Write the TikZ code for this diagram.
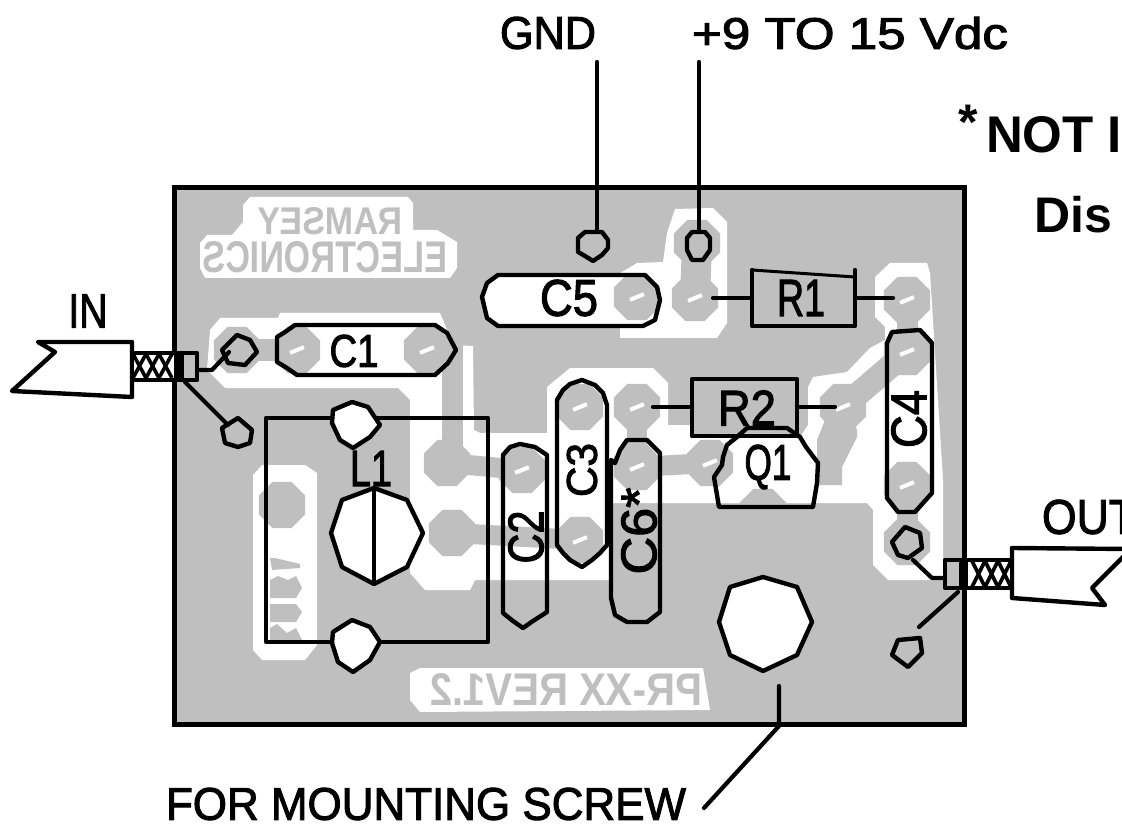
\documentclass[tikz,border=0pt]{standalone}
\usepackage{graphicx}
\usepackage{fontspec}
\setmainfont{Liberation Sans}
\newfontfamily\plotfont[FakeBold=2.2]{Liberation Sans}
\usetikzlibrary{shapes.geometric}
\definecolor{pcb}{RGB}{191,191,191}
\newcommand{\fit}[3]{\resizebox{#1pt}{#2pt}{#3}}
\newcommand{\mir}[3]{\resizebox{#1pt}{#2pt}{\reflectbox{\bfseries #3}}}
\tikzset{
 outl/.style={draw=black,line width=4.4pt,line join=round,line cap=round},
 wfill/.style={outl,fill=white},
 wire/.style={draw=black,line width=4.2pt,line cap=round,line join=round},
 padg/.style={regular polygon,regular polygon sides=8,minimum size=50pt,inner sep=0pt,fill=pcb,draw=none},
 holew/.style={rectangle,fill=white,minimum width=15pt,minimum height=4pt,inner sep=0pt,rotate=22},
 trace/.style={draw=pcb,line width=21pt},
 lbl/.style={inner sep=0pt,outer sep=0pt,text=black,font=\plotfont\fontsize{40}{40}\selectfont},
 bigt/.style={inner sep=0pt,outer sep=0pt,text=black,anchor=west,font=\bfseries\fontsize{50}{50}\selectfont},
 ghost/.style={inner sep=0pt,outer sep=0pt,text=pcb,font=\fontsize{40}{40}\selectfont},
}
\begin{document}
\begin{tikzpicture}[x=1pt,y=-1pt]
\useasboundingbox (0,0) rectangle (1122,826);
\clip (0,0) rectangle (1122,826);
\fill[white] (0,0) rectangle (1122,826);
% board
\fill[pcb] (174,188) rectangle (964,724);
% etched areas
\fill[white] (668,383)--(668,425)--(692,425)--(692,437)--(800,437)--(808,425)--(808,387)--(813,377)--(847,372)--(870,348)--(885,340)--(885,327)--(875,317)--(875,277)--(890,263)--(927,263)--(930,273)--(943,480)--(943,580)--(888,580)--(873,565)--(873,510)--(867,503)--(612,503)--(612,580)--(475,580)--(470,590)--(425,590)--(410,573)--(410,400)--(398,388)--(225,388)--(207,370)--(210,330)--(220,318)--(278,318)--(280,313)--(440,313)--(443,320)--(453,345)--(473,346)--(474,430)--(480,433)--(547,433)--(547,387)--(570,368)--(653,368)--cycle;
\fill[white] (482,297)--(487,283)--(498,275)--(617,275)--(637,263)--(663,262)--(667,233)--(675,209)--(713,208)--(727,222)--(727,323)--(717,338)--(620,338)--(620,326)--(498,326)--(487,318)--cycle;
\fill[white] (250,197)--(408,197)--(413,203)--(413,230)--(437,230)--(457,242)--(457,268)--(450,278)--(205,278)--(200,268)--(200,243)--(207,235)--(232,235)--(243,222)--(243,205)--cycle;
\fill[white] (253,475)--(262,465)--(305,465)--(317,473)--(317,645)--(305,660)--(262,660)--(253,650)--cycle;
\fill[white] (410,673)--(420,668)--(703,668)--(710,710)--(420,712)--(410,700)--cycle;
% copper pads
\node[padg] (pA) at (237,350) {};
\node[padg] (pB) at (297,350) {};
\node[padg] (pC) at (427,350) {};
\node[padg] (pD) at (447,463) {};
\node[padg] (pE) at (452,533) {};
\node[padg] (pF) at (522,470) {};
\node[padg] (pG) at (580,407) {};
\node[padg] (pH) at (580,540) {};
\node[padg] (pI) at (637,407) {};
\node[padg] (pJ) at (637,467) {};
\node[padg] (pK) at (710,463) {};
\node[padg] (pL) at (763,512) {};
\node[padg] (pM) at (843,407) {};
\node[padg] (pN) at (907,352) {};
\node[padg] (pO) at (907,300) {};
\node[padg] (pP) at (907,485) {};
\node[padg] (pQ) at (907,542) {};
\node[padg] (pR) at (697,243) {};
\node[padg] (pS) at (695,298) {};
\node[padg] (pT) at (637,297) {};
\node[padg] (pU) at (282,505) {};
% copper traces
\coordinate (cTop) at (452,350);
\coordinate (cBot) at (452,463);
\draw[trace] (pA.center)--(pB.center);
\draw[trace] (pC.center)--(cTop)--(cBot);
\draw[trace,line width=20pt] (pD.center)--(pF.center);
\draw[trace,line width=20pt] (pE.center)--(pH.center);
\draw[trace,line width=20pt] (pI.center)--(pJ.center);
\draw[trace,line width=20pt] (pJ.center)--(pK.center);
\draw[trace,line width=24pt] (pM.center)--(pN.center);
\draw[trace] (pO.center)--(pN.center);
\draw[trace] (pP.center)--(pQ.center);
\draw[trace,line width=30pt] (pR.center)--(pS.center);
\fill[pcb] (843,390)--(857,430)--(857,437)--(842,467)--(842,485)--(817,485)--(817,440)--(825,420)--cycle;
% drill marks
\foreach \p in {pB,pC,pF,pG,pH,pI,pJ,pK,pM,pN,pO,pP,pS,pT}{\node[holew] at (\p) {};}
% mirrored silkscreen
\node[ghost] (ramsey) at (330,221) {\mir{145}{27}{RAMSEY}};
\node[ghost] (electro) at (325,257) {\mir{244}{31}{ELECTRONICS}};
\node[ghost] (rev) at (566,689) {\mir{272}{32}{PR-XX REV1.2}};
\fill[pcb] (270,558)--(275,558)--(300,564)--(300,568)--(272,570)--cycle;
\fill[pcb] (270,580)--(278,576)--(288,580)--(296,576)--(302,588)--(296,598)--(270,598)--cycle;
\fill[pcb] (270,604)--(296,604)--(302,612)--(296,622)--(270,622)--cycle;
\fill[pcb] (270,628)--(277,624)--(287,633)--(296,628)--(302,640)--(270,640)--cycle;
% board outline
\draw[black,line width=5pt,line join=miter] (174,188) rectangle (964,724);
% coil
\draw[outl] (266,418) rectangle (488,642);
\draw[wfill] (333,410)--(352,402)--(368,407)--(380,425)--(370,437)--(353,448)--(340,440)--(332,423)--cycle;
\draw[wfill] (333,632)--(352,620)--(370,627)--(380,642)--(370,660)--(353,672)--(338,662)--(332,643)--cycle;
\draw[wfill] (374,488)--(407,500)--(423,533)--(407,567)--(374,584)--(342,567)--(331,533)--(342,500)--cycle;
\draw[outl] (374,488)--(374,584);
\draw[wfill] (763,577)--(797,587)--(812,622)--(797,655)--(763,671)--(730,655)--(719,622)--(730,587)--cycle;
% capacitors
\draw[outl] (277,337)--(285,332)--(295,325)--(435,325)--(447,333)--(456,350)--(448,363)--(435,375)--(297,375)--(287,368)--(277,362)--cycle;
\draw[outl] (482,297)--(487,283)--(498,275)--(645,275)--(657,287)--(660,300)--(655,320)--(643,326)--(498,326)--(487,318)--cycle;
\draw[outl] (503,455)--(510,447)--(520,444)--(535,447)--(547,455)--(547,612)--(533,621)--(523,628)--(513,621)--(503,613)--cycle;
\draw[outl] (557,400)--(563,390)--(570,384)--(582,380)--(595,385)--(603,393)--(607,405)--(607,545)--(600,553)--(592,560)--(582,567)--(570,560)--(563,553)--(557,545)--cycle;
\draw[outl] (611,460)--(615,463)--(620,450)--(627,440)--(647,440)--(660,453)--(660,612)--(647,622)--(627,622)--(615,615)--(611,598)--cycle;
\draw[outl] (887,343)--(892,332)--(920,330)--(932,343)--(932,493)--(915,512)--(898,512)--(887,498)--cycle;
% resistors
\draw[outl] (752,270)--(752,326)--(855,326)--(855,270);
\draw[draw=black,line width=3pt] (752,270)--(855,277);
\draw[outl] (692,379) rectangle (797,436);
\coordinate (r1a) at (713,298); \coordinate (r1b) at (752,298);
\coordinate (r1c) at (857,298); \coordinate (r1d) at (893,298);
\coordinate (r2a) at (653,407); \coordinate (r2b) at (692,407);
\coordinate (r2c) at (797,407); \coordinate (r2d) at (835,407);
\draw[wire] (r1a)--(r1b); \draw[wire] (r1c)--(r1d);
\draw[wire] (r2a)--(r2b); \draw[wire] (r2c)--(r2d);
% transistor
\draw[outl] (747,428)--(787,428)--(800,437)--(806,447)--(818,463)--(817,483)--(813,507)--(719,507)--(714,477)--(722,465)--(723,457)--(727,445)--(737,437)--cycle;
% pads with wires
\draw[outl] (585,232)--(602,232)--(608,240)--(608,248)--(602,255)--(593,261)--(585,256)--(578,252)--(578,238)--cycle;
\draw[outl] (692,232)--(705,232)--(710,238)--(710,250)--(703,260)--(692,260)--(687,250)--(687,238)--cycle;
\draw[outl] (222,350)--(237,335)--(250,340)--(257,352)--(245,365)--(228,363)--cycle;
\draw[outl] (222,428)--(238,418)--(252,430)--(250,443)--(238,447)--(225,443)--cycle;
\draw[outl] (892,542)--(905,527)--(920,533)--(922,548)--(908,558)--(898,555)--cycle;
\draw[outl] (892,655)--(898,640)--(920,638)--(922,653)--(908,667)--cycle;
\coordinate (gndT) at (597,62); \coordinate (gndB) at (597,232);
\coordinate (vT) at (699,62); \coordinate (vB) at (699,232);
\draw[wire] (gndT)--(gndB);
\draw[wire] (vT)--(vB);
% coax in
\draw[wfill] (38,342)--(132,342)--(132,397)--(12,391)--(55,352)--cycle;
\fill[white] (132,354) rectangle (174,379);
\foreach \x in {133,146,159}{\draw[black,line width=3.6pt] (\x,354)--(\x+13,378) (\x,378)--(\x+13,354);}
\draw[outl] (132,353) rectangle (197,380);
\draw[black,line width=9pt] (179,353)--(179,380);
\coordinate (inA) at (197,370); \coordinate (inB) at (212,370); \coordinate (inC) at (229,352);
\coordinate (inG) at (185,382); \coordinate (inH) at (228,425);
\draw[wire] (inA)--(inB)--(inC);
\draw[wire] (inG)--(inH);
% coax out
\draw[wfill] (1130,549)--(1012,548)--(1012,598)--(1105,605)--(1092,588)--(1130,550);
\fill[white] (972,561) rectangle (1012,587);
\foreach \x in {972,985,998}{\draw[black,line width=3.6pt] (\x,561)--(\x+13,587) (\x,587)--(\x+13,561);}
\draw[outl] (945,560) rectangle (1012,588);
\draw[black,line width=9pt] (963,560)--(963,588);
\coordinate (ouA) at (945,578); \coordinate (ouB) at (932,578); \coordinate (ouC) at (913,560);
\coordinate (ouG) at (958,592); \coordinate (ouH) at (919,627);
\draw[wire] (ouA)--(ouB)--(ouC);
\draw[wire] (ouG)--(ouH);
% mounting pointer
\coordinate (scA) at (779,686); \coordinate (scB) at (779,726); \coordinate (scC) at (704,808);
\draw[wire] (scA)--(scB)--(scC);
% labels
\node[lbl] (lC1) at (354,351) {\fit{49}{32}{C1}};
\node[lbl] (lC5) at (569,298) {\fit{58}{36}{C5}};
\node[lbl] (lR1) at (801,298) {\fit{48}{36}{R1}};
\node[lbl] (lR2) at (747,408) {\fit{58}{35}{R2}};
\node[lbl] (lQ1) at (768,467) {\fit{47}{35}{Q1}};
\node[lbl,anchor=south west] (lL1) at (350,486) {\fit{42}{35}{L1}};
\node[lbl,rotate=90] (lC2) at (526,537) {\fit{53}{35}{C2}};
\node[lbl,rotate=90] (lC3) at (582,470) {\fit{54}{30}{C3}};
\node[lbl,rotate=90] (lC4) at (909,419) {\fit{58}{35}{C4}};
\node[lbl,rotate=90] (lC6) at (639,531) {\fit{87}{35}{C6*}};
\node[lbl] (lGnd) at (548,33) {\fit{96}{32}{GND}};
\node[lbl] (lV) at (850,33) {\fit{316}{32}{+9 TO 15 Vdc}};
\node[lbl] (lIn) at (88,311) {\fit{39}{33}{IN}};
\node[lbl,anchor=west] (lOut) at (1042,517) {\fit{94}{34}{OUT}};
\node[lbl] (lScrew) at (426,804) {\fit{520}{32}{FOR MOUNTING SCREW}};
\node[bigt] (lStar) at (958,122) {*};
\node[bigt] (lNot) at (986,135) {\resizebox{136pt}{36pt}{NOT I}};
\node[bigt] (lDis) at (1034,215) {Dis};
\end{tikzpicture}
\end{document}
